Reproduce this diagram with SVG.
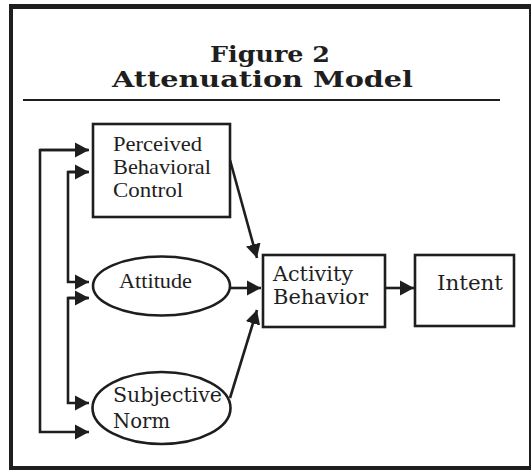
<svg xmlns="http://www.w3.org/2000/svg" width="532" height="470" viewBox="0 0 532 470">
  <style>
    .frame { stroke: #1e1e1e; fill: none; }
    .node { fill: #ffffff; stroke: #1e1e1e; stroke-width: 2.6; }
    .edge { fill: none; stroke: #1e1e1e; stroke-width: 2.6; }
    .title { font-family: "DejaVu Serif Condensed", "DejaVu Serif", "Liberation Serif", serif; font-weight: bold; font-size: 22px; fill: #1e1e1e; text-anchor: middle; }
    .lbl { font-family: "Liberation Serif", "Times New Roman", serif; font-size: 21px; fill: #1e1e1e; }
    .lbl2 { font-family: "DejaVu Serif", "Liberation Serif", serif; font-size: 19.5px; fill: #1e1e1e; }
  </style>
  <defs>
    <marker id="arrow" markerUnits="userSpaceOnUse" markerWidth="16" markerHeight="16" viewBox="0 0 16 16" refX="14" refY="8" orient="auto">
      <path d="M0,0.5 L14,8 L0,15.5 Z" fill="#1e1e1e"/>
    </marker>
  </defs>

  <rect width="532" height="470" fill="#ffffff"/>

  <!-- outer frame -->
  <g id="frame">
    <line class="frame" x1="9" y1="6.5" x2="531" y2="6.5" stroke-width="5"/>
    <line class="frame" x1="11" y1="4" x2="11" y2="470" stroke-width="4"/>
    <line class="frame" x1="530" y1="4" x2="530" y2="470" stroke-width="2"/>
    <line class="frame" x1="9" y1="468" x2="531" y2="468" stroke-width="4"/>
  </g>

  <!-- heading -->
  <g id="heading">
    <text class="title" x="270" y="62" textLength="120" lengthAdjust="spacingAndGlyphs">Figure 2</text>
    <text class="title" x="262.5" y="87" textLength="301" lengthAdjust="spacingAndGlyphs">Attenuation Model</text>
    <line x1="23" y1="100" x2="500" y2="100" stroke="#1e1e1e" stroke-width="2.2"/>
  </g>

  <!-- connectors -->
  <g id="connectors">
    <!-- outer loop: PBC <-> Subjective Norm -->
    <polyline class="edge" points="88,150 40,150 40,432 89,432" marker-end="url(#arrow)"/>
    <line class="edge" x1="40" y1="150" x2="89" y2="150" marker-end="url(#arrow)"/>
    <!-- PBC <-> Attitude -->
    <polyline class="edge" points="88,172 68,172 68,282 89,282" marker-end="url(#arrow)"/>
    <line class="edge" x1="68" y1="172" x2="89" y2="172" marker-end="url(#arrow)"/>
    <!-- Attitude <-> Subjective Norm -->
    <polyline class="edge" points="88,298 68,298 68,403 89,403" marker-end="url(#arrow)"/>
    <line class="edge" x1="68" y1="298" x2="89" y2="298" marker-end="url(#arrow)"/>
    <!-- predictors -> Activity Behavior -->
    <line class="edge" x1="230" y1="160" x2="257" y2="258" marker-end="url(#arrow)"/>
    <line class="edge" x1="230" y1="288" x2="261" y2="288" marker-end="url(#arrow)"/>
    <line class="edge" x1="230" y1="398" x2="257" y2="310" marker-end="url(#arrow)"/>
    <!-- Activity Behavior -> Intent -->
    <line class="edge" x1="385" y1="288" x2="414" y2="288" marker-end="url(#arrow)"/>
  </g>

  <g id="pbc">
    <rect class="node" x="93" y="124" width="137" height="93"/>
    <text class="lbl" x="113" y="151" textLength="89" lengthAdjust="spacingAndGlyphs">Perceived</text>
    <text class="lbl" x="113" y="174" textLength="98" lengthAdjust="spacingAndGlyphs">Behavioral</text>
    <text class="lbl" x="113" y="197" textLength="70" lengthAdjust="spacingAndGlyphs">Control</text>
  </g>

  <g id="attitude">
    <ellipse class="node" cx="161.5" cy="286" rx="68.5" ry="29.5"/>
    <text class="lbl" x="119" y="288" textLength="73" lengthAdjust="spacingAndGlyphs">Attitude</text>
  </g>

  <g id="subjective-norm">
    <ellipse class="node" cx="161.5" cy="408" rx="69" ry="36"/>
    <text class="lbl2" x="113" y="402" textLength="109" lengthAdjust="spacingAndGlyphs">Subjective</text>
    <text class="lbl2" x="113" y="428" textLength="57" lengthAdjust="spacingAndGlyphs">Norm</text>
  </g>

  <g id="activity-behavior">
    <rect class="node" x="263" y="255" width="122" height="72"/>
    <text class="lbl2" x="273" y="281" textLength="80" lengthAdjust="spacingAndGlyphs">Activity</text>
    <text class="lbl2" x="273" y="304" textLength="95" lengthAdjust="spacingAndGlyphs">Behavior</text>
  </g>

  <g id="intent">
    <rect class="node" x="415" y="255" width="99" height="71"/>
    <text class="lbl2" x="437" y="290" textLength="66" lengthAdjust="spacingAndGlyphs">Intent</text>
  </g>
</svg>
